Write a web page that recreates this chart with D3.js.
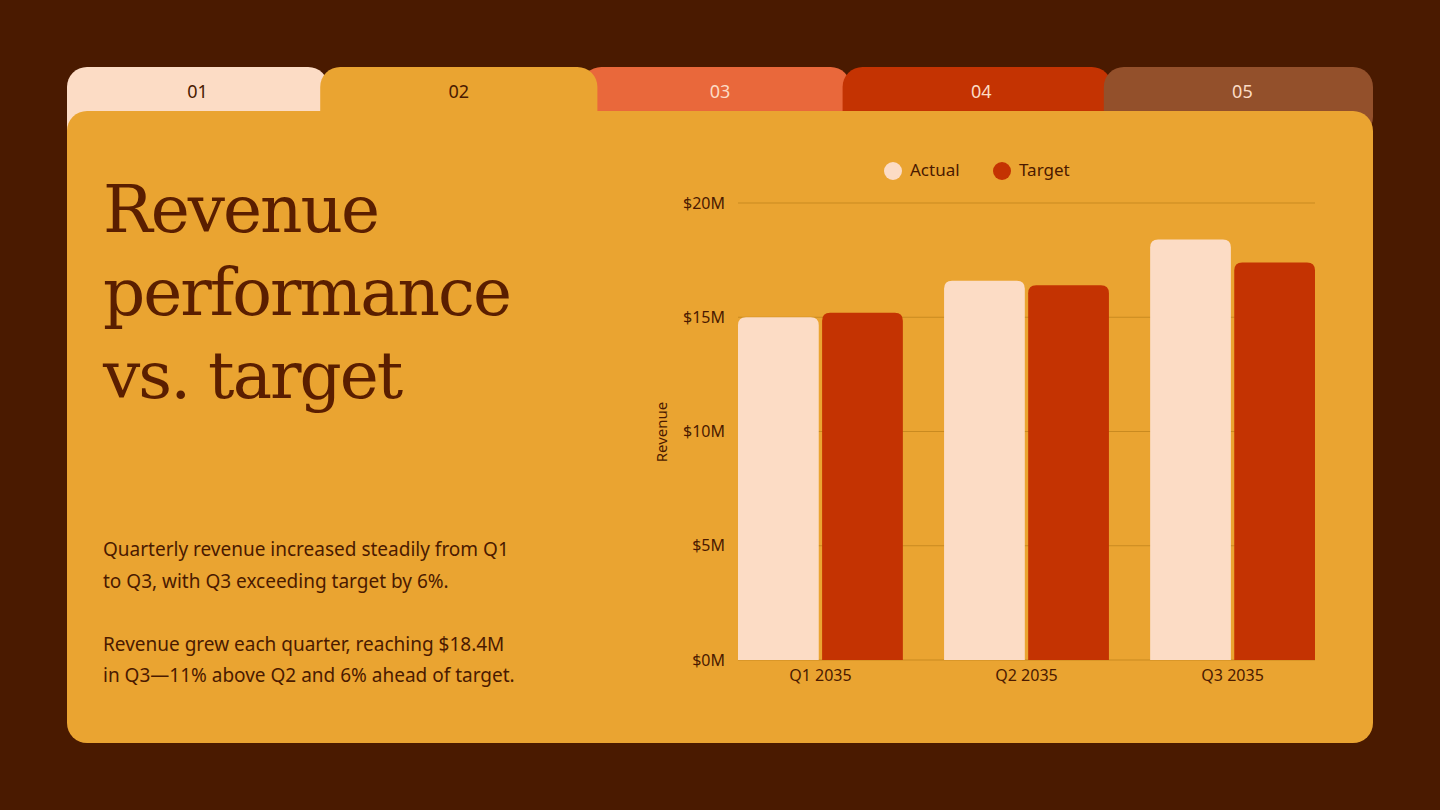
<!DOCTYPE html>
<html><head><meta charset="utf-8">
<script src="https://cdn.jsdelivr.net/npm/d3@7"></script>
<style>body{margin:0;background:#4a1a00;}svg{display:block;}</style>
</head><body>
<div id="chart"></div>
<script>
const quarters = ["Q1 2035", "Q2 2035", "Q3 2035"];
const actual = [15.0, 16.6, 18.4];
const target = [15.2, 16.4, 17.4];
const yTicks = [0, 5, 10, 15, 20];
const tabs = ["01", "02", "03", "04", "05"];
const tabColors = ["#fcdcc5", "#eaa431", "#e9683b", "#c43302", "#93502b"];
const tabText = ["#4a1a00", "#4a1a00", "#fcdcc5", "#fcdcc5", "#fcdcc5"];

const ink = "#4a1a00", panel = "#eaa431";
const svg = d3.select("#chart").append("svg").attr("width", 1440).attr("height", 810);
svg.append("rect").attr("width", 1440).attr("height", 810).attr("fill", ink);

// tabs: later drawn over earlier, active one (02) on top
const tabX = d3.scaleBand().domain(tabs).range([67, 1373]);
const order = [0, 2, 3, 4, 1];
order.forEach(i => {
  const x = tabX(tabs[i]) - (i ? 8 : 0), w = tabX.bandwidth() + (i ? 8 : 0) + (i === 1 ? 8 : 0);
  svg.append("rect").attr("x", x).attr("y", 67).attr("width", w).attr("height", 70)
    .attr("rx", 20).attr("fill", tabColors[i]);
  svg.append("text").attr("x", tabX(tabs[i]) + tabX.bandwidth() / 2).attr("y", 98)
    .attr("text-anchor", "middle").attr("font-family", "Noto Sans").attr("font-size", 18)
    .attr("fill", tabText[i]).text(tabs[i]);
});
svg.append("rect").attr("x", 67).attr("y", 111).attr("width", 40).attr("height", 40).attr("fill", tabColors[0]);
svg.append("rect").attr("x", 67).attr("y", 111).attr("width", 1306).attr("height", 632)
  .attr("rx", 20).attr("fill", panel);

// title
const title = ["Revenue", "performance", "vs. target"];
svg.append("text").attr("font-family", "DejaVu Serif").attr("font-size", 66).attr("fill", "#5a1e00")
  .attr("letter-spacing", -2)
  .selectAll("tspan").data(title).join("tspan").attr("x", 103).attr("y", (d, i) => 232 + i * 83).text(d => d);

const body = ["Quarterly revenue increased steadily from Q1", "to Q3, with Q3 exceeding target by 6%.", "",
  "Revenue grew each quarter, reaching $18.4M", "in Q3\u201411% above Q2 and 6% ahead of target."];
svg.append("text").attr("font-family", "Noto Sans").attr("font-size", 19).attr("fill", ink)
  .selectAll("tspan").data(body).join("tspan").attr("x", 103).attr("y", (d, i) => 556 + i * 31.5).text(d => d);

// chart
const x = d3.scaleBand().domain(quarters).range([738, 1315]).paddingInner(0.2);
const sub = d3.scaleBand().domain(["a", "t"]).range([0, x.bandwidth()]).paddingInner(0.04);
const y = d3.scaleLinear().domain([0, 20]).range([660, 203]);

svg.append("g").selectAll("line").data(yTicks).join("line")
  .attr("x1", 738).attr("x2", 1315).attr("y1", d => y(d)).attr("y2", d => y(d))
  .attr("stroke", "#c98a20").attr("stroke-width", 1);

const yAxis = svg.append("g").attr("transform", "translate(738,0)")
  .call(d3.axisLeft(y).tickValues(yTicks).tickSize(0).tickPadding(13).tickFormat(d => "$" + d + "M"));
yAxis.select(".domain").remove();
yAxis.selectAll("text").attr("font-family", "Noto Sans").attr("font-size", 16).attr("fill", ink);

const xAxis = svg.append("g").attr("transform", "translate(0,660)")
  .call(d3.axisBottom(x).tickSize(0).tickPadding(10));
xAxis.select(".domain").remove();
xAxis.selectAll("text").attr("font-family", "Noto Sans").attr("font-size", 16).attr("fill", ink);

svg.append("text").attr("transform", "translate(667,432) rotate(-90)").attr("text-anchor", "middle")
  .attr("font-family", "Noto Sans").attr("font-size", 15).attr("fill", ink).text("Revenue");

function bars(vals, key, color) {
  svg.append("g").selectAll("path").data(vals).join("path").attr("fill", color)
    .attr("d", (d, i) => {
      const bx = x(quarters[i]) + sub(key), w = sub.bandwidth(), top = y(d), b = y(0), r = 8;
      return `M${bx},${b}V${top + r}Q${bx},${top} ${bx + r},${top}H${bx + w - r}Q${bx + w},${top} ${bx + w},${top + r}V${b}Z`;
    });
}
bars(actual, "a", "#fcdcc5");
bars(target, "t", "#c43302");

// legend
const legend = [["Actual", "#fcdcc5", 893], ["Target", "#c43302", 1002]];
legend.forEach(([t, c, lx]) => {
  svg.append("circle").attr("cx", lx).attr("cy", 171).attr("r", 9).attr("fill", c);
  svg.append("text").attr("x", lx + 17).attr("y", 176).attr("font-family", "Noto Sans").attr("font-size", 17)
    .attr("fill", ink).text(t);
});
</script>
</body></html>
